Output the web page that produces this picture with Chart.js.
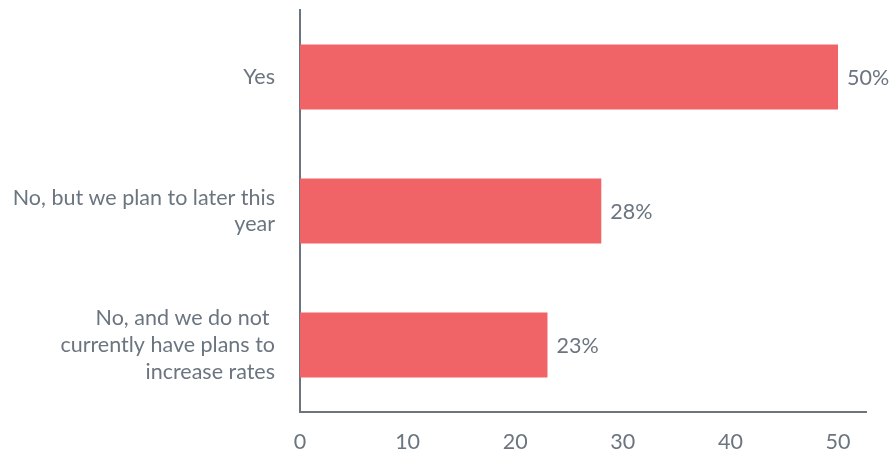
<!DOCTYPE html>
<html>
<head>
<meta charset="utf-8">
<script src="https://cdn.jsdelivr.net/npm/chart.js@4.4.0/dist/chart.umd.min.js"></script>
<style>
  html, body { margin: 0; padding: 0; background: #fff; }
  #wrap { width: 893px; height: 450px; }
</style>
</head>
<body>
<div id="wrap"><canvas id="c" width="893" height="450"></canvas></div>
<script>
'use strict';

const categories = [
  ['Yes'],
  ['No, but we plan to later this', 'year'],
  ['No, and we do not ', 'currently have plans to', 'increase rates'],
];
const values = [50, 28, 23];
const xTicks = [0, 10, 20, 30, 40, 50];

const TEXT = '#6b7580';
const BAR = '#f06467';
const FONT = 'Lato, "Open Sans", sans-serif';
const SIZE = 21.5;

/* value labels to the right of each bar */
const valueLabels = {
  id: 'valueLabels',
  afterDatasetsDraw(chart) {
    const { ctx } = chart;
    const meta = chart.getDatasetMeta(0);
    ctx.save();
    ctx.fillStyle = TEXT;
    ctx.font = `${SIZE}px ${FONT}`;
    ctx.textAlign = 'left';
    ctx.textBaseline = 'middle';
    meta.data.forEach((bar, i) => {
      ctx.fillText(`${values[i]}%`, bar.x + 9, bar.y + 1);
    });
    ctx.restore();
  },
};

new Chart(document.getElementById('c'), {
  type: 'bar',
  data: {
    labels: categories,
    datasets: [{
      data: values,
      backgroundColor: BAR,
      categoryPercentage: 1,
      barPercentage: 0.485,
    }],
  },
  options: {
    indexAxis: 'y',
    responsive: false,
    animation: false,
    layout: { padding: { top: 10, right: 27, left: 0, bottom: 0 } },
    plugins: {
      legend: { display: false },
      tooltip: { enabled: false },
    },
    scales: {
      x: {
        min: 0,
        max: 52.6,
        grid: { display: false, drawTicks: false },
        border: { display: true, color: TEXT, width: 2 },
        afterBuildTicks(scale) {
          scale.ticks = xTicks.map(v => ({ value: v }));
        },
        afterFit(scale) {
          scale.height = 38;
          scale.paddingLeft = 0;
          scale.paddingRight = 0;
        },
        ticks: {
          color: TEXT,
          padding: 17,
          maxRotation: 0,
          font: { family: FONT, size: SIZE },
        },
      },
      y: {
        grid: { display: false, drawTicks: false },
        border: { display: true, color: TEXT, width: 2 },
        afterFit(scale) {
          scale.width = 300;
          scale.paddingTop = 0;
          scale.paddingBottom = 0;
        },
        ticks: {
          color: TEXT,
          padding: 25,
          font: { family: FONT, size: SIZE, lineHeight: 1.25 },
        },
      },
    },
  },
  plugins: [valueLabels],
});
</script>
</body>
</html>
